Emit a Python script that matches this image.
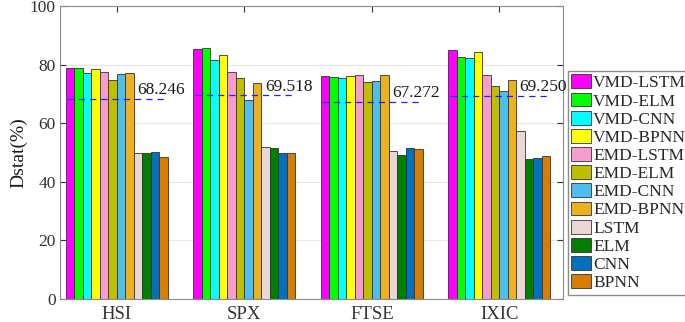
import numpy as np, pandas as pd, matplotlib.pyplot as plt, seaborn as sns

# DATA
indices = ["HSI", "SPX", "FTSE", "IXIC"]
models = ["VMD-LSTM", "VMD-ELM", "VMD-CNN", "VMD-BPNN", "EMD-LSTM", "EMD-ELM",
          "EMD-CNN", "EMD-BPNN", "LSTM", "ELM", "CNN", "BPNN"]
hsi = [78.9, 78.9, 77.2, 78.6, 77.4, 74.8, 76.9, 77.0, 49.9, 49.8, 50.2, 48.6]
spx = [85.3, 85.7, 81.5, 83.2, 77.6, 75.5, 67.8, 73.7, 52.0, 51.7, 49.9, 49.7]
ftse = [76.0, 75.8, 75.3, 76.1, 76.4, 74.0, 74.5, 76.4, 50.5, 49.1, 51.5, 51.2]
ixic = [85.0, 82.7, 82.3, 84.3, 76.4, 72.7, 71.1, 74.6, 57.3, 47.7, 48.1, 48.9]
means = [68.246, 69.518, 67.272, 69.250]
mean_labels = ["68.246", "69.518", "67.272", "69.250"]

colors = ["#FF00FF", "#00FF00", "#00FFFF", "#FFFF00", "#F89BCF", "#BFBF00",
          "#4DBEEE", "#EDB120", "#EBD6D6", "#007F00", "#0072BD", "#D97D00"]

df = pd.DataFrame({
    "index": np.repeat(indices, len(models)),
    "model": models * len(indices),
    "dstat": hsi + spx + ftse + ixic})

sns.set_style("white")
plt.rcParams["font.family"] = ["Liberation Serif", "DejaVu Serif"]

fig = plt.figure(figsize=(6.85, 3.22), dpi=100)
ax = fig.add_axes([0.0876, 0.0714, 0.7344, 0.91])

sns.barplot(data=df, x="index", y="dstat", hue="model", hue_order=models,
    palette=colors, width=0.8, gap=0, edgecolor="#333333", linewidth=0.6,
    saturation=1, ax=ax, legend=True)

# mean dashed lines and labels
for i, (m, lab) in enumerate(zip(means, mean_labels)):
    ax.plot([i - 0.39, i + 0.39], [m, m], ls=(0, (5, 4)), color="#2020FF", lw=0.9, zorder=5)
    ax.text(i + 0.16, m + 1.6, lab, fontsize=12.5, color="#1a1a1a", va="baseline", zorder=6)

ax.set_ylim(0, 100); ax.set_xlim(-0.447, 3.5)
ax.set_yticks([0, 20, 40, 60, 80, 100])
ax.yaxis.grid(True, color="#e6e6e6", lw=0.8); ax.set_axisbelow(True)
ax.set_xlabel(""); ax.set_ylabel("Dstat(%)", fontsize=14, color="#1a1a1a", labelpad=2)
ax.tick_params(labelsize=12.5, colors="#333333", direction="in", length=4, pad=3,
    top=True, right=True, bottom=True, left=True)
ax.tick_params(axis="x", labelsize=13.5, pad=5)
for s in ax.spines.values():
    s.set_visible(True); s.set_color("#8c8c8c"); s.set_linewidth(0.8)

h, l = ax.get_legend_handles_labels()
ax.legend(h, l, loc="upper left", bbox_to_anchor=(568 / 685, 1 - 71 / 322),
    bbox_transform=fig.transFigure, fontsize=12.5, frameon=True, fancybox=False,
    edgecolor="#8c8c8c", handlelength=1.15, handleheight=0.85, handletextpad=0.1,
    labelspacing=0.07, borderpad=0.2, borderaxespad=0, framealpha=1)

plt.savefig("out.png", dpi=100)
